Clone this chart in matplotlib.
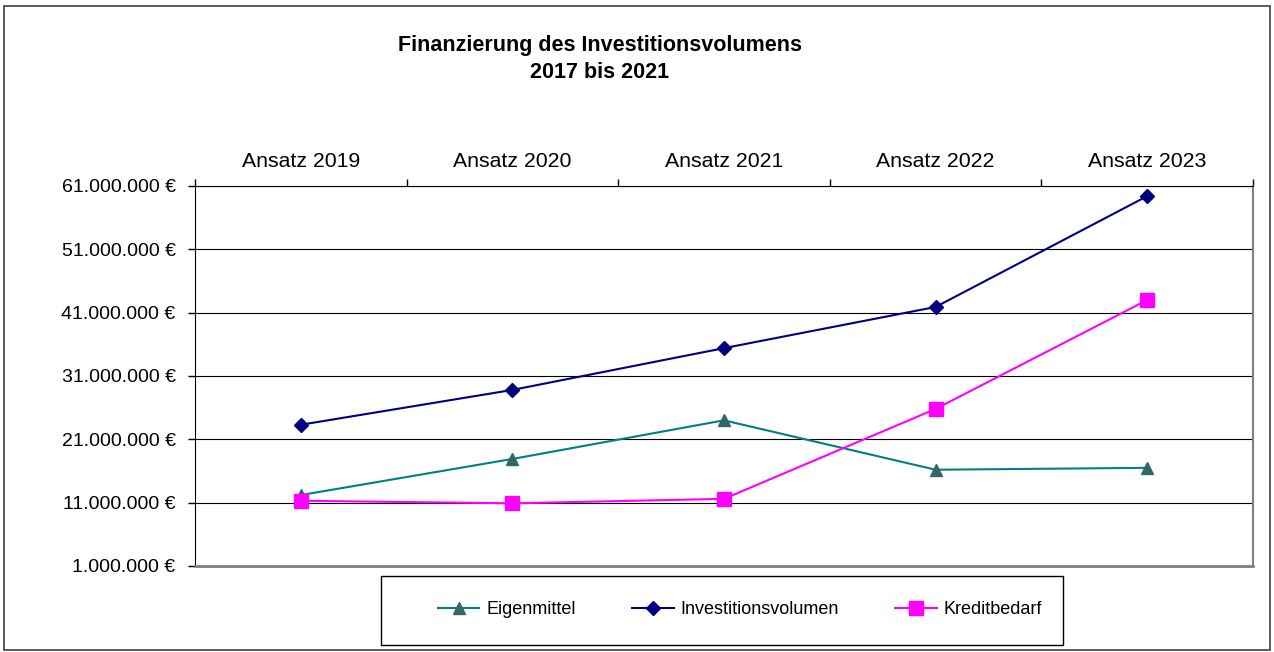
import numpy as np
import matplotlib.pyplot as plt
from matplotlib.patches import Rectangle
from matplotlib.ticker import FuncFormatter

plt.rcParams['font.family'] = ['Liberation Sans', 'DejaVu Sans']

categories = ['Ansatz 2019', 'Ansatz 2020', 'Ansatz 2021', 'Ansatz 2022', 'Ansatz 2023']
eigenmittel = [12200000, 17900000, 24000000, 16200000, 16500000]
investitionsvolumen = [23300000, 28800000, 35400000, 41900000, 59400000]
kreditbedarf = [11300000, 10900000, 11600000, 25800000, 43000000]
yticks = [1000000, 11000000, 21000000, 31000000, 41000000, 51000000, 61000000]

fig = plt.figure(figsize=(12.74, 6.52), dpi=100)
fig.patches.append(Rectangle((4/1274, 2/652), 1266/1274, 644/652, transform=fig.transFigure,
                             fill=False, edgecolor='#404040', lw=1.2))
# legend box
fig.patches.append(Rectangle((381/1274, 1 - 645/652), 682/1274, 69/652, transform=fig.transFigure,
                             fill=False, edgecolor='black', lw=1))

ax = fig.add_axes([195/1274, 1 - 566/652, 1058/1274, 380/652])
x = np.arange(len(categories))

ax.plot(x, eigenmittel, color='#008080', lw=1.5, marker='^', ms=9,
        mfc='#336666', mec='#336666', label='Eigenmittel')
ax.plot(x, investitionsvolumen, color='#000080', lw=1.5, marker='D', ms=7,
        mfc='#000080', mec='#000080', label='Investitionsvolumen')
ax.plot(x, kreditbedarf, color='#FF00FF', lw=1.5, marker='s', ms=10,
        mfc='#FF00FF', mec='#FF00FF', label='Kreditbedarf')

ax.set_xlim(-0.5, 4.5)
ax.set_ylim(1000000, 61000000)
ax.set_yticks(yticks)
ax.yaxis.set_major_formatter(FuncFormatter(lambda v, p: f'{int(v):,}'.replace(',', '.') + ' €'))
ax.yaxis.grid(True, color='black', lw=0.8)
ax.set_axisbelow(True)

# category labels on top, tick marks between categories
ax.xaxis.tick_top()
ax.set_xticks(np.arange(-0.5, 5, 1))
ax.set_xticklabels([])
ax.set_xticks(x, minor=True)
ax.set_xticklabels(categories, minor=True)
ax.tick_params(axis='x', which='minor', length=0, labelsize=15.3, pad=11)
ax.tick_params(axis='x', which='major', length=5, width=1, direction='out')
ax.tick_params(axis='y', length=5, width=1, direction='out', labelsize=14, pad=9)

ax.spines['left'].set_color('black')
ax.spines['top'].set_color('black')
ax.spines['right'].set_color('#808080')
ax.spines['bottom'].set_color('#808080')
ax.spines['right'].set_linewidth(1.5)
ax.spines['bottom'].set_linewidth(2)

fig.text(600/1274, 1 - 45/652, 'Finanzierung des Investitionsvolumens', ha='center', va='center',
         fontsize=15.5, fontweight='bold')
fig.text(600/1274, 1 - 72/652, '2017 bis 2021', ha='center', va='center',
         fontsize=15.5, fontweight='bold')

leg = fig.legend(loc='center', bbox_to_anchor=(740/1274, 1 - 610/652),
                 ncol=3, fontsize=13, frameon=False,
                 handlelength=2.3, handletextpad=0.4, columnspacing=3.1)

fig.savefig('out.png', dpi=100)
